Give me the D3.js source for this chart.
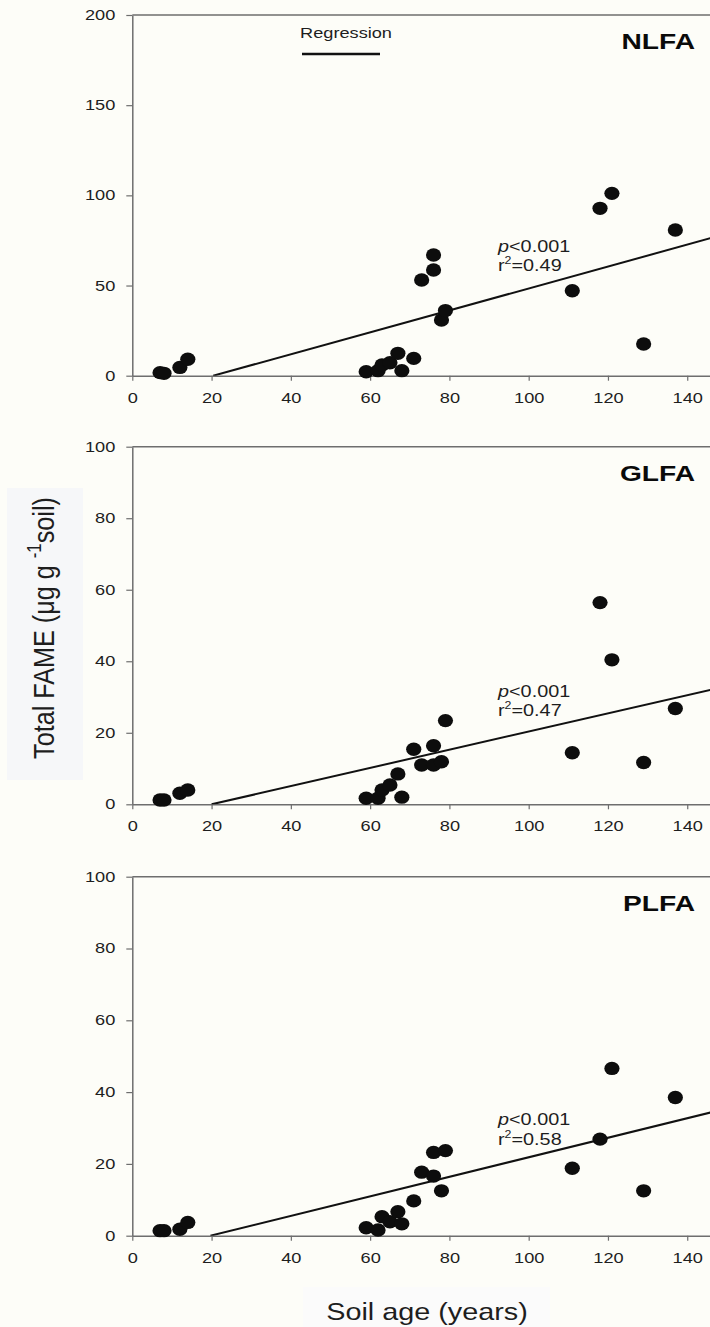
<!DOCTYPE html>
<html>
<head>
<meta charset="utf-8">
<script src="https://cdn.jsdelivr.net/npm/d3@7"></script>
<style>
  html, body { margin: 0; padding: 0; background: #fdfdf8; }
  svg { display: block; font-family: Arial, "Liberation Sans", sans-serif; }
</style>
</head>
<body>
<svg id="chart" width="710" height="1327"></svg>
<script>
// ---- Data ----
const ages = [7, 8, 12, 14, 59, 62, 63, 65, 67, 68, 71, 73, 76, 76, 78, 79, 111, 118, 121, 129, 137];
const nlfa = [1.7, 1.3, 4.6, 9.1, 2.2, 2.8, 5.9, 7.2, 12.4, 2.8, 9.6, 53.1, 58.6, 66.9, 30.9, 36.1, 47.1, 92.8, 101.1, 17.6, 80.8];
const glfa = [1.2, 1.2, 3.1, 4.0, 1.7, 1.7, 4.0, 5.4, 8.5, 2.0, 15.4, 11.0, 16.4, 11.0, 11.9, 23.4, 14.4, 56.4, 40.4, 11.7, 26.8];
const plfa = [1.4, 1.4, 1.8, 3.7, 2.2, 1.6, 5.3, 3.9, 6.7, 3.3, 9.7, 17.7, 16.6, 23.2, 12.5, 23.7, 18.8, 26.9, 46.6, 12.5, 38.5];

const panelNames = ["NLFA", "GLFA", "PLFA"];
const panelValues = [nlfa, glfa, plfa];
const yMax = [200, 100, 100];
const yTickValues = [[0, 50, 100, 150, 200], [0, 20, 40, 60, 80, 100], [0, 20, 40, 60, 80, 100]];
const xTickValues = [0, 20, 40, 60, 80, 100, 120, 140];
const regSlope = [0.6077, 0.2544, 0.272];
const regIntercept = [-12.40, -5.09, -5.36];
const pLabels = ["<0.001", "<0.001", "<0.001"];
const r2Labels = ["=0.49", "=0.47", "=0.58"];

// ---- Layout ----
const svg = d3.select("#chart");
const left = 132.3, right = 713;
const panelTop = [15, 446.7, 876.7];
const panelBottom = [375.7, 804.3, 1235.7];
const SX = 1.3; // horizontal text stretch seen in the figure
const axisColor = "#6e6e6e";
const textColor = "#1e1e1e";

// background boxes behind titles
svg.append("rect").attr("x", 7).attr("y", 488).attr("width", 76).attr("height", 292).attr("fill", "#f6f7f9");
svg.append("rect").attr("x", 303).attr("y", 1287).attr("width", 247).attr("height", 40).attr("fill", "#fbfbfb");

const x = d3.scaleLinear().domain([0, 146.5]).range([left, right]);

panelNames.forEach((name, i) => {
  const y = d3.scaleLinear().domain([0, yMax[i]]).range([panelBottom[i], panelTop[i]]);
  const g = svg.append("g");

  const clipId = "clip" + i;
  g.append("clipPath").attr("id", clipId).append("rect")
    .attr("x", left).attr("y", panelTop[i]).attr("width", right - left).attr("height", panelBottom[i] - panelTop[i]);

  // frame: top and right lines
  g.append("line").attr("x1", left).attr("x2", right).attr("y1", panelTop[i]).attr("y2", panelTop[i])
    .attr("stroke", axisColor).attr("stroke-width", 1.5);
  g.append("line").attr("x1", right).attr("x2", right).attr("y1", panelTop[i]).attr("y2", panelBottom[i])
    .attr("stroke", axisColor).attr("stroke-width", 1.5);

  // y axis
  const ya = g.append("g").attr("transform", `translate(${left},0)`)
    .call(d3.axisLeft(y).tickValues(yTickValues[i]).tickSize(6).tickSizeOuter(0).tickPadding(11));
  ya.select(".domain").attr("stroke", axisColor).attr("stroke-width", 1.5);
  ya.selectAll(".tick line").attr("stroke", axisColor).attr("stroke-width", 1.2);
  ya.selectAll(".tick text")
    .attr("x", -17 / SX)
    .attr("transform", `scale(${SX},1)`)
    .attr("font-size", 14).attr("fill", textColor)
    .style("font-family", "Arial, 'Liberation Sans', sans-serif");

  // x axis
  const xa = g.append("g").attr("transform", `translate(0,${panelBottom[i]})`)
    .call(d3.axisBottom(x).tickValues(xTickValues).tickSize(5).tickSizeOuter(0).tickPadding(12));
  xa.select(".domain").attr("stroke", axisColor).attr("stroke-width", 1.5);
  xa.selectAll(".tick line").attr("stroke", axisColor).attr("stroke-width", 1.2);
  xa.selectAll(".tick text")
    .attr("transform", `scale(${SX},1)`)
    .attr("font-size", 14).attr("fill", textColor)
    .style("font-family", "Arial, 'Liberation Sans', sans-serif");

  // regression line
  const x0 = -regIntercept[i] / regSlope[i];
  const x1 = x.domain()[1];
  const line = d3.line().x(d => x(d)).y(d => y(regSlope[i] * d + regIntercept[i]));
  g.append("path").datum([x0, x1]).attr("d", line)
    .attr("clip-path", `url(#${clipId})`)
    .attr("fill", "none").attr("stroke", "#111").attr("stroke-width", 2);

  // points
  const vals = panelValues[i];
  g.selectAll("ellipse.pt").data(ages).enter().append("ellipse")
    .attr("class", "pt")
    .attr("cx", d => x(d))
    .attr("cy", (d, k) => y(vals[k]))
    .attr("rx", 7.6).attr("ry", 6.7)
    .attr("fill", "#0d0d0d");

  // panel label
  g.append("text")
    .attr("transform", `translate(695,${panelTop[i] + 34}) scale(1.28,1)`)
    .attr("text-anchor", "end").attr("font-size", 22).attr("font-weight", "bold")
    .attr("fill", "#0a0a0a").text(name);

  // statistics annotation
  const ax = 498, ay = y(regSlope[i] * 93 + regIntercept[i]);
  const t1 = g.append("text")
    .attr("transform", `translate(${ax},${panelTop[i] + [237, 250, 248][i]}) scale(1.24,1)`)
    .attr("font-size", 16).attr("fill", textColor);
  t1.append("tspan").attr("font-style", "italic").text("p");
  t1.append("tspan").text(pLabels[i]);
  const t2 = g.append("text")
    .attr("transform", `translate(${ax},${panelTop[i] + [256, 269, 268][i]}) scale(1.24,1)`)
    .attr("font-size", 16).attr("fill", textColor);
  t2.append("tspan").text("r");
  t2.append("tspan").attr("font-size", 10).attr("dy", -7).text("2");
  t2.append("tspan").attr("dy", 7).text(r2Labels[i]);
});

// legend (top panel)
svg.append("text")
  .attr("transform", `translate(346,38) scale(1.3,1)`)
  .attr("text-anchor", "middle").attr("font-size", 14).attr("fill", textColor).text("Regression");
svg.append("line").attr("x1", 302).attr("x2", 380).attr("y1", 54).attr("y2", 54)
  .attr("stroke", "#111").attr("stroke-width", 2.5);

// y axis title
const yt = svg.append("text")
  .attr("transform", "translate(54,628) rotate(-90) scale(1.05,1.22)")
  .attr("text-anchor", "middle").attr("font-size", 24).attr("fill", textColor);
yt.append("tspan").text("Total FAME (μg g ");
yt.append("tspan").attr("font-size", 16).attr("dy", -11).text("-1");
yt.append("tspan").attr("dy", 11).text("soil)");

// x axis title
svg.append("text")
  .attr("transform", "translate(427,1320) scale(1.2,1)")
  .attr("text-anchor", "middle").attr("font-size", 24).attr("fill", textColor)
  .text("Soil age (years)");
</script>
</body>
</html>
